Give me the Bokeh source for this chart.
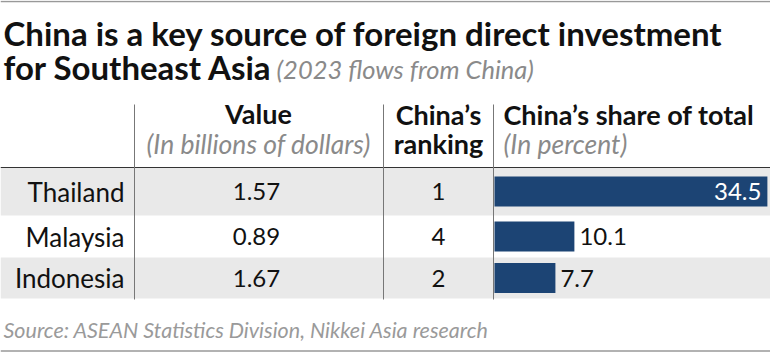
from bokeh.plotting import figure
from bokeh.models import Range1d, ColumnDataSource
from bokeh.embed import file_html
from bokeh.resources import INLINE
from bokeh.core.properties import value

# ---- data ----
countries = ["Thailand", "Malaysia", "Indonesia"]
values_bn = [1.57, 0.89, 1.67]
rankings = [1, 4, 2]
share_pct = [34.5, 10.1, 7.7]

title_line1 = "China is a key source of foreign direct investment"
title_line2 = "for Southeast Asia"
subtitle = "(2023 flows from China)"
source_note = "Source: ASEAN Statistics Division, Nikkei Asia research"

# ---- layout (pixel space) ----
W, H = 770, 352
ROW_EDGES = [167, 215, 257, 298]
BAR_LEFT = 494
PX_PER_UNIT = 7.91
FONT = "Lato"
BAR_COLOR = "#1c4474"
BAND = "#e9e9e9"

p = figure(width=W, height=H, output_backend="svg", toolbar_location=None,
           x_range=Range1d(0, W), y_range=Range1d(H, 0), min_border=0)
p.axis.visible = False
p.grid.visible = False
p.outline_line_color = None
p.background_fill_color = "white"
p.border_fill_color = "white"

bar_start = -BAR_LEFT / PX_PER_UNIT
p.extra_x_ranges = {"bar": Range1d(bar_start, bar_start + W / PX_PER_UNIT)}


def label(x, y_base, txt, size, style="normal", color="#111111", align="left"):
    # place text by its baseline using a 'middle' anchor
    y_mid = y_base - 0.36 * size
    p.text(x=[x], y=[y_mid], text=[txt], text_font=value(FONT), text_font_style=style,
           text_font_size=f"{size}px", text_color=color, text_align=align,
           text_baseline="middle")


# row bands
tops = ROW_EDGES[:-1]
bots = ROW_EDGES[1:]
mids = [(a + b) / 2 for a, b in zip(tops, bots)]
band_src = ColumnDataSource(dict(top=[tops[0], tops[2]], bottom=[bots[0], bots[2]]))
p.quad(left=0, right=W, top="top", bottom="bottom", source=band_src,
       fill_color=BAND, line_color=None)

# frame lines
p.segment(x0=[0, 0], x1=[W, W], y0=[1, 350.5], y1=[1, 350.5], line_color="#999999", line_width=1.5)
p.segment(x0=[0], x1=[W], y0=[167], y1=[167], line_color="#333333", line_width=1.2)
p.segment(x0=[134, 383, 493], x1=[134, 383, 493], y0=[104, 104, 104], y1=[299, 299, 299],
          line_color="#777777", line_width=1)

# title
label(3, 44, title_line1, 33, "bold")
label(3, 78, title_line2, 33, "bold")
label(276, 78, subtitle, 25.5, "italic", "#8a8a8a")

# headers
label(258, 123, "Value", 27, "bold", align="center")
label(258, 153, "(In billions of dollars)", 26.5, "italic", "#8a8a8a", align="center")
label(438, 124, "China\u2019s", 27, "bold", align="center")
label(438, 153, "ranking", 27, "bold", align="center")
label(503, 124, "China\u2019s share of total", 27, "bold")
label(503, 153, "(In percent)", 26.5, "italic", "#8a8a8a")

# table body
src = ColumnDataSource(dict(
    country=countries,
    val=[f"{v:.2f}" for v in values_bn],
    rank=[str(r) for r in rankings],
    share=share_pct,
    mid=mids,
))
p.text(x=124, y="mid", text="country", source=src, text_font=value(FONT),
       text_font_size="26px", text_color="#111111", text_align="right", text_baseline="middle")
p.text(x=256, y="mid", text="val", source=src, text_font=value(FONT),
       text_font_size="24px", text_color="#111111", text_align="center", text_baseline="middle")
p.text(x=438, y="mid", text="rank", source=src, text_font=value(FONT),
       text_font_size="24px", text_color="#111111", text_align="center", text_baseline="middle")

p.hbar(y="mid", left=0, right="share", height=30, source=src, x_range_name="bar",
       fill_color=BAR_COLOR, line_color=None)

inside = [i for i, s in enumerate(share_pct) if s > 20]
outside = [i for i, s in enumerate(share_pct) if s <= 20]
in_src = ColumnDataSource(dict(x=[share_pct[i] for i in inside], y=[mids[i] for i in inside],
                               t=[f"{share_pct[i]:.1f}" for i in inside]))
out_src = ColumnDataSource(dict(x=[share_pct[i] for i in outside], y=[mids[i] for i in outside],
                                t=[f"{share_pct[i]:.1f}" for i in outside]))
p.text(x="x", y="y", text="t", source=in_src, x_range_name="bar", x_offset=-6,
       text_font=value(FONT), text_font_size="24px", text_color="white",
       text_align="right", text_baseline="middle")
p.text(x="x", y="y", text="t", source=out_src, x_range_name="bar", x_offset=5,
       text_font=value(FONT), text_font_size="24px", text_color="#111111",
       text_align="left", text_baseline="middle")

# source
label(3, 337, source_note, 21.5, "italic", "#9a9a9a")

open("out.html", "w").write(file_html(p, INLINE))
